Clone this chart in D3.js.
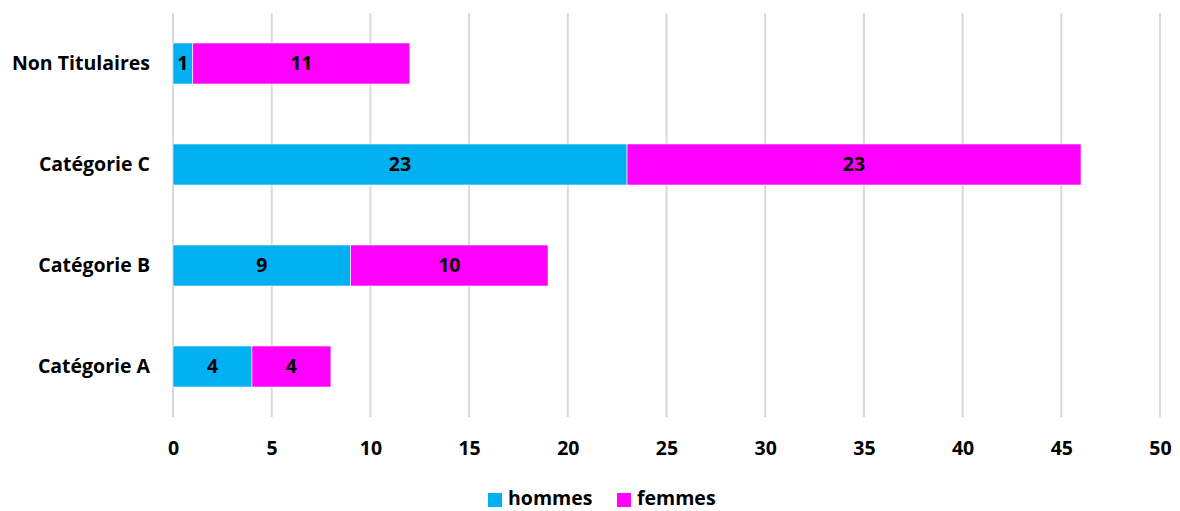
<!DOCTYPE html>
<html>
<head>
<meta charset="utf-8">
<script src="https://cdn.jsdelivr.net/npm/d3@7"></script>
<style>
  html, body { margin: 0; padding: 0; background: #fff; }
  svg text { font-family: "Open Sans", Lato, sans-serif; font-weight: 700; fill: #000; }
</style>
</head>
<body>
<svg id="chart" width="1180" height="511"></svg>
<script>
// Staff counts by category, split by sex
const categories = ["Non Titulaires", "Catégorie C", "Catégorie B", "Catégorie A"];
const hommes = [1, 23, 9, 4];
const femmes = [11, 23, 10, 4];
const seriesNames = ["hommes", "femmes"];
const seriesColors = ["#00b0f0", "#ff00ff"];
const xTicks = [0, 5, 10, 15, 20, 25, 30, 35, 40, 45, 50];

const FONT = "'Open Sans', Lato, sans-serif";
const FS = 19.5;

const rows = categories.map((c, i) => ({ category: c, hommes: hommes[i], femmes: femmes[i] }));
const stacked = d3.stack().keys(seriesNames)(rows);

const svg = d3.select("#chart");

const x = d3.scaleLinear().domain([0, 50]).range([173, 1160]);
const y = d3.scaleBand().domain(categories).range([13, 417])
  .paddingInner(0.594).paddingOuter(0.297);

// vertical gridlines
svg.append("g").selectAll("line").data(xTicks).join("line")
  .attr("x1", d => x(d)).attr("x2", d => x(d))
  .attr("y1", 13).attr("y2", 417)
  .attr("stroke", "#d9d9d9").attr("stroke-width", 2);

// x tick labels
const xAxis = svg.append("g").attr("transform", "translate(0,417)")
  .call(d3.axisBottom(x).tickValues(xTicks).tickSize(0).tickPadding(24));
xAxis.select(".domain").remove();
xAxis.selectAll("text").attr("font-size", FS).attr("font-family", FONT).attr("font-weight", 700).attr("fill", "#000");

// category labels
const yAxis = svg.append("g").attr("transform", "translate(150,0)")
  .call(d3.axisLeft(y).tickSize(0).tickPadding(0));
yAxis.select(".domain").remove();
yAxis.selectAll("text").attr("font-size", FS).attr("font-family", FONT).attr("font-weight", 700).attr("fill", "#000");

// stacked bars
const layers = svg.append("g").selectAll("g").data(stacked).join("g")
  .attr("fill", (d, i) => seriesColors[i]);

layers.selectAll("rect").data(d => d.map(s => ({ s, key: d.key }))).join("rect")
  .attr("x", d => x(d.s[0]))
  .attr("y", d => y(d.s.data.category))
  .attr("width", d => x(d.s[1]) - x(d.s[0]))
  .attr("height", y.bandwidth())
  .attr("stroke", "#fff").attr("stroke-width", 0.6);

// value labels
layers.selectAll("text").data(d => d.map(s => ({ s, key: d.key }))).join("text")
  .attr("x", d => (x(d.s[0]) + x(d.s[1])) / 2)
  .attr("y", d => y(d.s.data.category) + y.bandwidth() / 2)
  .attr("text-anchor", "middle").attr("dy", "0.35em")
  .attr("font-size", FS)
  .text(d => d.s.data[d.key]);

// legend
const legend = svg.append("g");
const legendItems = [{ name: "hommes", x: 488 }, { name: "femmes", x: 617 }];
legendItems.forEach((item, i) => {
  legend.append("rect").attr("x", item.x).attr("y", 493).attr("width", 14).attr("height", 14)
    .attr("fill", seriesColors[i]);
  legend.append("text").attr("x", item.x + 20).attr("y", 505)
    .attr("font-size", FS).text(item.name);
});
</script>
</body>
</html>
